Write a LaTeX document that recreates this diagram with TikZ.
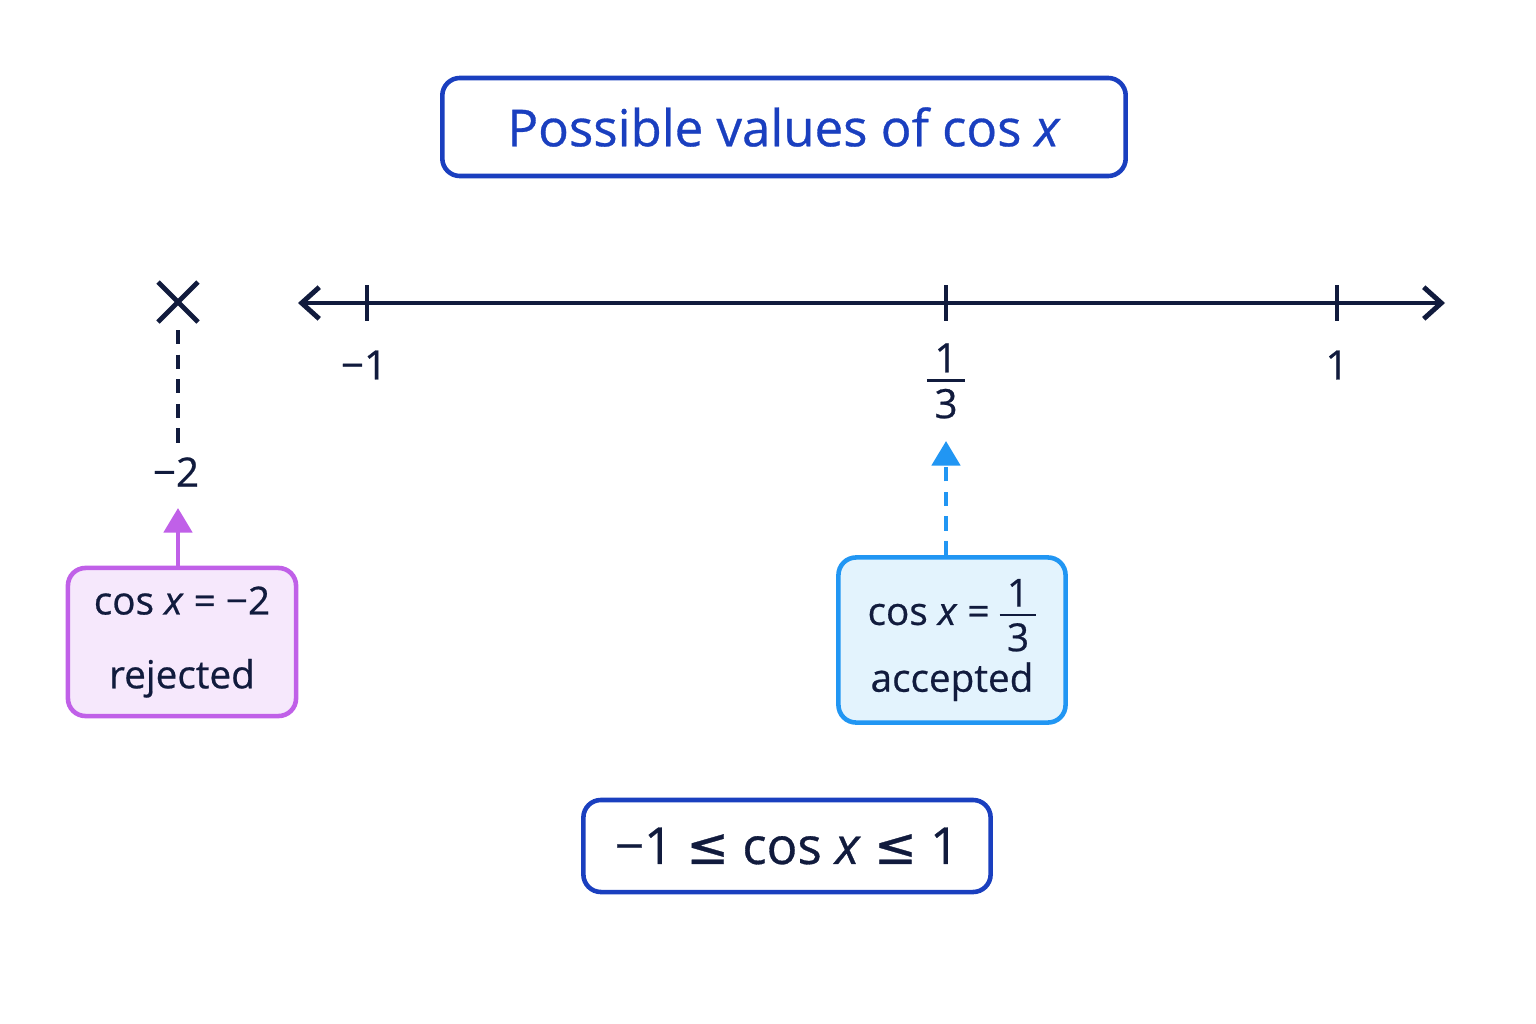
\documentclass[tikz,border=0pt]{standalone}
\usepackage{fontspec}
\setmainfont{Open Sans}[FakeBold=0.6,ItalicFeatures={FakeBold=0.6}]
\newfontfamily\djv{DejaVu Sans}[FakeBold=0.6]
\usetikzlibrary{arrows.meta}
\definecolor{navy}{HTML}{111B3D}
\definecolor{tblue}{HTML}{1A3FBF}
\definecolor{purp}{HTML}{C060E8}
\definecolor{purpf}{HTML}{F6E8FC}
\definecolor{sky}{HTML}{2196F3}
\definecolor{skyf}{HTML}{E3F3FD}
\newcommand{\fr}[2]{\ensuremath{\vcenter{\offinterlineskip\halign{\hfil##\hfil\cr #1\cr\noalign{\kern2pt}\rule{0.95em}{0.7pt}\cr\noalign{\kern2pt}#2\cr}}}}
\begin{document}
\begin{tikzpicture}[x=0.01cm,y=-0.01cm,
  lbl/.style={text=navy,font=\fontsize{11.5}{14}\selectfont},
  box/.style={draw,line width=1.3pt,rounded corners=5pt,inner sep=0pt}]
\useasboundingbox (0,0) rectangle (1536,1024);
\node[box,draw=tblue,minimum width=6.83cm,minimum height=0.98cm,text=tblue,font=\fontsize{14.5}{18}\selectfont] (title) at (784,127) {Possible values of cos \textit{x}};
% axis
\coordinate (L) at (298,303); \coordinate (R) at (1445,303);
\draw[navy,line width=1.4pt,{Straight Barb[length=5pt,width=9pt]}-{Straight Barb[length=5pt,width=9pt]}] (L) -- (R);
\foreach \n/\x in {m/367,t/946,o/1337}{\draw[navy,line width=1.4pt] (\x,285) -- (\x,321);}
\node[lbl] (lm) at (364,365) {−1};
\node[lbl,inner sep=1pt] (lt) at (946,381) {\fr{1}{3}};
\node[lbl] (lo) at (1337,365) {1};
% X mark
\coordinate (xm) at (178,302);
\draw[navy,line width=1.4pt] (158,282) -- (198,322) (158,322) -- (198,282);
\coordinate (xd) at (178,330);
\node[lbl] (m2) at (176,472) {−2};
\draw[navy,line width=1.2pt,dash pattern=on 4pt off 3pt] (xd) -- (178,445);
% rejected box
\node[box,draw=purp,fill=purpf,minimum width=2.28cm,minimum height=1.48cm,align=center,lbl,font=\fontsize{11}{16}\selectfont] (rej) at (182,642) {cos \textit{x} = −2\\[5pt]rejected};
\draw[purp,line width=1.3pt,-{Triangle[length=7pt,width=8pt]}] (178,567) -- (178,508);
% accepted box
\node[box,draw=sky,fill=skyf,minimum width=2.27cm,minimum height=1.65cm,align=center,lbl,font=\fontsize{11}{16}\selectfont] (acc) at (952,640) {cos \textit{x} = \fr{1}{3}\\[3pt]accepted};
\draw[sky,line width=1.3pt,dash pattern=on 4pt off 3pt,-{Triangle[length=7pt,width=8pt]}] (acc.north-|lt) -- (946,441);
% bottom
\node[box,draw=tblue,minimum width=4.07cm,minimum height=0.92cm,text=navy,font=\fontsize{14.5}{18}\selectfont] (ineq) at (787,846) {−1 {\djv ≤} cos \textit{x} {\djv ≤} 1};
\end{tikzpicture}
\end{document}
